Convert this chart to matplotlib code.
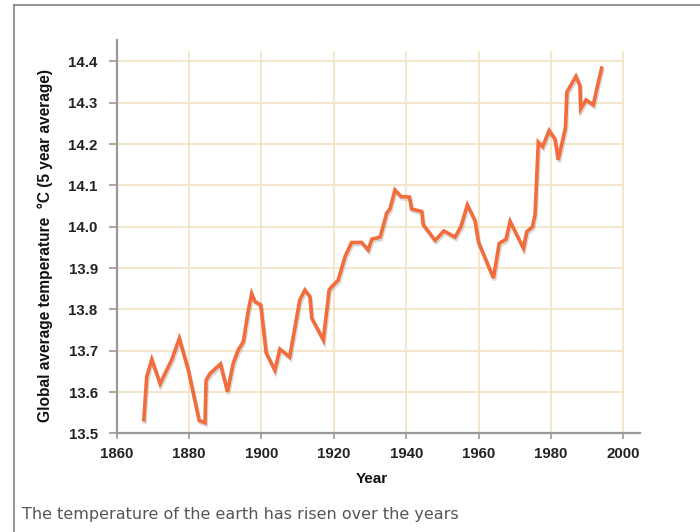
import matplotlib
matplotlib.use("Agg")
import matplotlib.pyplot as plt
import matplotlib.patheffects as pe
from matplotlib.lines import Line2D

years = [1867.5, 1868.3, 1869.7, 1872.0, 1873.8, 1875.2, 1877.3, 1879.8, 1882.8, 1884.4,
         1884.7, 1885.8, 1888.7, 1890.6, 1892.2, 1893.6, 1895.0, 1896.4, 1897.3, 1898.2,
         1899.8, 1901.3, 1903.7, 1905.1, 1907.8, 1910.6, 1912.0, 1913.4, 1913.9, 1917.1,
         1918.7, 1919.4, 1921.2, 1923.1, 1924.9, 1927.7, 1929.5, 1930.5, 1932.8, 1934.6,
         1935.5, 1936.9, 1938.6, 1940.9, 1941.5, 1944.3, 1944.7, 1948.0, 1950.4, 1953.5,
         1955.1, 1956.9, 1959.0, 1960.0, 1964.1, 1965.7, 1967.6, 1968.7, 1972.4, 1973.3,
         1974.9, 1975.6, 1976.5, 1977.7, 1979.5, 1981.1, 1982.0, 1984.0, 1984.4, 1986.9,
         1988.0, 1988.2, 1989.7, 1991.7, 1992.6, 1994.0]
temps = [13.533, 13.637, 13.679, 13.620, 13.653, 13.678, 13.730, 13.653, 13.531, 13.526,
         13.629, 13.645, 13.668, 13.601, 13.670, 13.702, 13.722, 13.799, 13.838, 13.819,
         13.811, 13.695, 13.653, 13.704, 13.685, 13.823, 13.847, 13.831, 13.779, 13.726,
         13.847, 13.855, 13.871, 13.928, 13.962, 13.962, 13.944, 13.970, 13.975, 14.033,
         14.043, 14.089, 14.073, 14.072, 14.043, 14.037, 14.005, 13.967, 13.990, 13.975,
         14.000, 14.053, 14.015, 13.962, 13.876, 13.960, 13.970, 14.013, 13.948, 13.988,
         14.000, 14.030, 14.205, 14.194, 14.233, 14.213, 14.162, 14.240, 14.326, 14.364,
         14.342, 14.285, 14.307, 14.295, 14.331, 14.384]

xticks = [1860, 1880, 1900, 1920, 1940, 1960, 1980, 2000]
yticks = [13.5, 13.6, 13.7, 13.8, 13.9, 14.0, 14.1, 14.2, 14.3, 14.4]
ytick_labels = ["%.1f" % v for v in yticks]

x_label = "Year"
y_label = "Global average temperature  \u00b0C (5 year average)"
caption = "The temperature of the earth has risen over the years"

W, H = 700, 532
fig = plt.figure(figsize=(W / 100, H / 100), dpi=100)
fig.patch.set_facecolor("white")

# outer frame lines (top and left)
fig.add_artist(Line2D([14 / W, 1.0], [1 - 5 / H, 1 - 5 / H], transform=fig.transFigure,
                      color="#808080", lw=1.2))
fig.add_artist(Line2D([14 / W, 14 / W], [0, 1 - 5 / H], transform=fig.transFigure,
                      color="#808080", lw=1.2))

left, right = 116.7 / W, 640 / W
bottom, top = 1 - 433.4 / H, 1 - 40 / H
ax = fig.add_axes([left, bottom, right - left, top - bottom])

xmin, xmax = 1860, 2004.6
ymin, ymax = 13.5, 14.452
ax.set_xlim(xmin, xmax)
ax.set_ylim(ymin, ymax)

grid_c = "#F3E4C6"
grid_top = 14.422
for xv in xticks[1:]:
    ax.plot([xv, xv], [ymin, grid_top], color=grid_c, lw=1.3, zorder=1)
for yv in yticks[1:]:
    ax.plot([xticks[0], xticks[-1]], [yv, yv], color=grid_c, lw=1.3, zorder=1)

ax.plot(years, temps, color="#F26C3C", lw=2.6, solid_joinstyle="miter", zorder=3,
        path_effects=[pe.SimpleLineShadow(offset=(0.8, -1.6), shadow_color="#909090", alpha=0.35),
                      pe.Normal()])

for s in ["top", "right"]:
    ax.spines[s].set_visible(False)
for s in ["left", "bottom"]:
    ax.spines[s].set_color("#9a9a9a")
    ax.spines[s].set_linewidth(1.6)

ax.plot(1, 0, ">", color="#9a9a9a", markersize=5, transform=ax.get_yaxis_transform(), clip_on=False)
ax.plot(0, 1, "^", color="#9a9a9a", markersize=5, transform=ax.get_xaxis_transform(), clip_on=False)

tick_font = dict(family="Liberation Sans", weight="bold", size=10.8)
ax.set_xticks(xticks)
ax.set_xticklabels([str(v) for v in xticks], fontdict=tick_font, color="#222222")
ax.set_yticks(yticks)
ax.set_yticklabels(ytick_labels, fontdict=tick_font, color="#222222")
ax.tick_params(axis="y", direction="out", length=6, width=1.2, color="#9a9a9a", pad=7.7)
ax.tick_params(axis="x", direction="out", length=4, width=1.2, color="#9a9a9a", pad=6)

ax.set_xlabel(x_label, family="Liberation Sans", weight="bold", size=11, color="#111111")
ax.xaxis.set_label_coords((1930.4 - xmin) / (xmax - xmin), -0.098)
ax.set_ylabel(y_label, family="Liberation Sans", weight="bold", size=11.2, color="#111111")
ax.yaxis.set_label_coords(-0.122, (13.955 - ymin) / (ymax - ymin))

fig.text(22 / W, 1 - 514 / H, caption, family="DejaVu Sans", size=11.5, color="#555555",
         va="center", ha="left")

fig.savefig("out.png", dpi=100)
